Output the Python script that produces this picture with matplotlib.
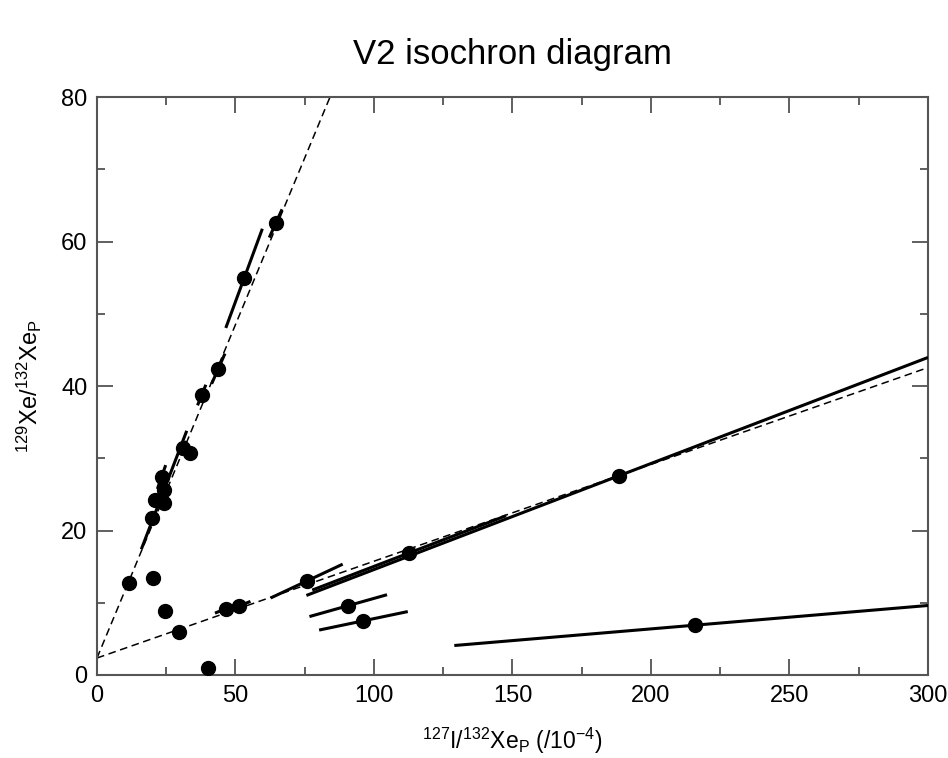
import numpy as np
import matplotlib
matplotlib.use("Agg")
import matplotlib.pyplot as plt

plt.rcParams['font.family'] = ['Liberation Sans', 'DejaVu Sans']
plt.rcParams['mathtext.default'] = 'regular'

# measured points: 127I/132Xe (x) and 129Xe/132Xe (y)
x_vals = [11.6, 20.2, 24.5, 29.6, 40.0, 46.6, 51.4, 75.7, 90.7, 96.2, 112.7, 188.6, 216.0,
          19.7, 20.9, 23.3, 24.2, 24.2, 31.2, 33.6, 37.8, 43.8, 53.1, 64.5]
y_vals = [12.7, 13.4, 8.9, 6.0, 1.0, 9.2, 9.55, 13.0, 9.6, 7.5, 16.9, 27.6, 6.9,
          21.7, 24.2, 27.4, 25.6, 23.8, 31.4, 30.7, 38.75, 42.4, 54.9, 62.5]
# correlated error bars: half extent in x and slope of the error ellipse axis
err_dx = [0, 0, 0, 0, 0, 4, 4, 13, 14, 16, 35, 113, 87,
          0, 0, 1.5, 8.2, 0, 1, 0, 1.5, 2.4, 6.6, 2.3]
err_slope = [0, 0, 0, 0, 0, 0.16, 0.16, 0.18, 0.108, 0.08, 0.147, 0.1468, 0.0324,
             0, 0, 1.1, 1.0, 0, 1.0, 0, 0.95, 0.87, 1.04, 0.85]

# isochron fits (dashed)
fit_intercept = [2.35, 2.35]
fit_slope = [0.923, 0.134]

XMAX = 300

fig = plt.figure(figsize=(9.48, 7.58), dpi=100)
ax = fig.add_axes([0.1023, 0.1095, 0.8766, 0.7625])

xx = np.array([0, XMAX])
for b, m in zip(fit_intercept, fit_slope):
    ax.plot(xx, b + m * xx, color='black', lw=1.1, ls=(0, (5, 3)), zorder=2)

for x, y, dx, s in zip(x_vals, y_vals, err_dx, err_slope):
    if dx > 0:
        x0 = max(x - dx, 0)
        x1 = min(x + dx, XMAX)
        ax.plot([x0, x1], [y + (x0 - x) * s, y + (x1 - x) * s], color='black', lw=2.2,
                solid_capstyle='butt', zorder=3)

ax.plot(x_vals, y_vals, 'o', color='black', ms=10, zorder=4)

ax.set_xlim(0, XMAX)
ax.set_ylim(0, 80)
ax.set_xticks(np.arange(0, 301, 50))
ax.set_xticks(np.arange(0, 301, 25), minor=True)
ax.set_yticks(np.arange(0, 81, 20))
ax.set_yticks(np.arange(0, 81, 10), minor=True)
ax.tick_params(which='both', direction='in', top=True, right=True, labelsize=17,
               color='#444444', width=1.2)
ax.tick_params(which='major', length=11.5, pad=7)
ax.tick_params(which='minor', length=6)
for sp in ax.spines.values():
    sp.set_color('#555555')
    sp.set_linewidth(1.5)

ax.set_xlabel(r'$^{127}$I/$^{132}$Xe$_P$ (/10$^{-4}$)', fontsize=16.5, labelpad=14)
ax.set_ylabel(r'$^{129}$Xe/$^{132}$Xe$_P$', fontsize=17, labelpad=12)
ax.set_title('V2 isochron diagram', fontsize=25, pad=24)

fig.savefig('out.png', dpi=100)
